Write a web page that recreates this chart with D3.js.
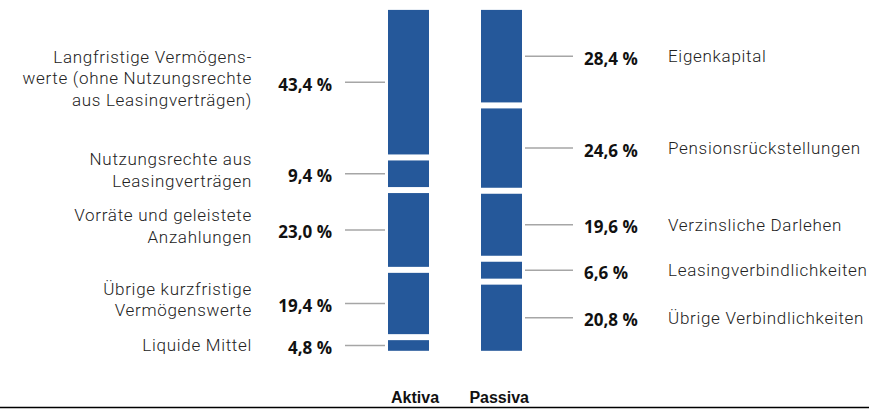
<!DOCTYPE html>
<html>
<head>
<meta charset="utf-8">
<script src="https://cdn.jsdelivr.net/npm/d3@7"></script>
<style>
  html, body { margin: 0; padding: 0; background: #fff; }
  svg { display: block; }
</style>
</head>
<body>
<svg id="chart" width="869" height="409"></svg>
<script>
const categories = ["Aktiva", "Passiva"];
const aktivaLabels = [
  ["Langfristige Vermögens-", "werte (ohne Nutzungsrechte", "aus Leasingverträgen)"],
  ["Nutzungsrechte aus", "Leasingverträgen"],
  ["Vorräte und geleistete", "Anzahlungen"],
  ["Übrige kurzfristige", "Vermögenswerte"],
  ["Liquide Mittel"]
];
const aktivaValues = [43.4, 9.4, 23.0, 19.4, 4.8];
const passivaLabels = [
  "Eigenkapital",
  "Pensionsrückstellungen",
  "Verzinsliche Darlehen",
  "Leasingverbindlichkeiten",
  "Übrige Verbindlichkeiten"
];
const passivaValues = [28.4, 24.6, 19.6, 6.6, 20.8];

const svg = d3.select("#chart");
const W = 869, H = 409;
const barColor = "#25589a";
const lineColor = "#a6a6a6";
const gap = 6;

const y = d3.scaleLinear().domain([0, 100]).range([6.9, 353.8]);
const x = d3.scaleBand().domain(categories).range([388, 522]).paddingInner(52 / 93).paddingOuter(0);
const fmt = v => d3.format(".1f")(v).replace(".", ",") + " %";

function stack(values) {
  let c = 0;
  return values.map((v, i) => { const s = c; c += v; return { i, v, s, e: c }; });
}

const pctFont = "'Open Sans', 'DejaVu Sans', sans-serif";
const lblFont = "Roboto, 'Liberation Sans', sans-serif";
const lblSize = 17, lblSpacing = 0.7;

function drawSide(cat, values, labels, side) {
  const data = stack(values);
  const x0 = x(cat), bw = x.bandwidth();
  const g = svg.append("g");
  g.selectAll("rect").data(data).join("rect")
    .attr("x", x0)
    .attr("y", d => y(d.s) + gap / 2)
    .attr("width", bw)
    .attr("height", d => y(d.e) - y(d.s) - gap)
    .attr("fill", barColor);

  const cy = d => (y(d.s) + y(d.e)) / 2;

  if (side === "left") {
    g.selectAll("line.c").data(data).join("line")
      .attr("x1", x0 - 43).attr("x2", x0 - 3)
      .attr("y1", cy).attr("y2", cy)
      .attr("stroke", lineColor).attr("stroke-width", 1.5);
    g.selectAll("text.p").data(data).join("text")
      .attr("class", "p")
      .attr("x", x0 - 56).attr("y", d => cy(d) + 8.5)
      .attr("text-anchor", "end")
      .attr("font-family", pctFont).attr("font-weight", 700)
      .attr("font-size", 17).attr("fill", "#111")
      .text(d => fmt(d.v));
    data.forEach(d => {
      const lines = labels[d.i];
      const n = lines.length;
      const center = cy(d) - (n > 1 ? 4 : 0);
      const t = g.append("text")
        .attr("text-anchor", "end")
        .attr("font-family", lblFont).attr("font-weight", 300)
        .attr("font-size", lblSize).attr("letter-spacing", lblSpacing).attr("fill", "#222");
      lines.forEach((ln, k) => {
        t.append("tspan").attr("x", 252)
          .attr("y", center + (k - (n - 1) / 2) * 21.5 + 6)
          .text(ln);
      });
    });
  } else {
    g.selectAll("line.c").data(data).join("line")
      .attr("x1", x0 + bw + 3).attr("x2", x0 + bw + 51)
      .attr("y1", cy).attr("y2", cy)
      .attr("stroke", lineColor).attr("stroke-width", 1.5);
    g.selectAll("text.p").data(data).join("text")
      .attr("class", "p")
      .attr("x", x0 + bw + 62).attr("y", d => cy(d) + 8.5)
      .attr("text-anchor", "start")
      .attr("font-family", pctFont).attr("font-weight", 700)
      .attr("font-size", 17).attr("fill", "#111")
      .text(d => fmt(d.v));
    g.selectAll("text.l").data(data).join("text")
      .attr("class", "l")
      .attr("x", 668).attr("y", d => cy(d) + 6)
      .attr("text-anchor", "start")
      .attr("font-family", lblFont).attr("font-weight", 300)
      .attr("font-size", lblSize).attr("letter-spacing", lblSpacing).attr("fill", "#222")
      .text(d => labels[d.i]);
  }
}

drawSide("Aktiva", aktivaValues, aktivaLabels, "left");
drawSide("Passiva", passivaValues, passivaLabels, "right");

// category labels
svg.append("g").selectAll("text").data(categories).join("text")
  .attr("x", (d, i) => i === 0 ? x(d) + 3 : x(d) + x.bandwidth() + 7)
  .attr("y", 403)
  .attr("text-anchor", (d, i) => i === 0 ? "start" : "end")
  .attr("font-family", "'Liberation Sans', Arial, sans-serif")
  .attr("font-weight", 700).attr("font-size", 16).attr("fill", "#111")
  .text(d => d);

// bottom rule
svg.append("line")
  .attr("x1", 0).attr("x2", W).attr("y1", 407.5).attr("y2", 407.5)
  .attr("stroke", "#000").attr("stroke-width", 1.5);
</script>
</body>
</html>
